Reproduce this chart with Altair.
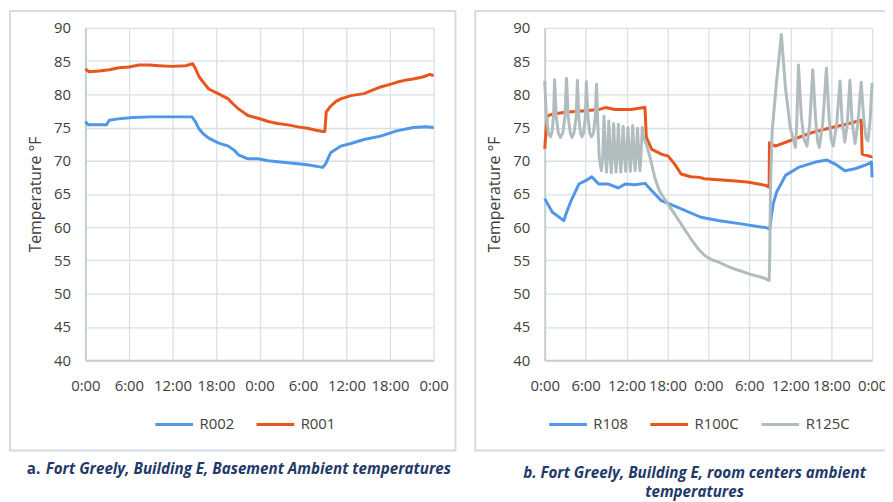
import altair as alt
import pandas as pd

# ---------------- Panel a: basement ambient temperatures ----------------
R002_H = [0, 0.4, 1.5, 2.9, 3.3, 4.5, 6.5, 8.8, 11.9, 14.7, 15.2, 15.6, 16.3, 17.0, 18.3, 19.7,
          20.5, 21.1, 22.4, 23.8, 25.2, 27.9, 30.6, 32.7, 33.1, 33.8, 35.2, 36.6, 38.4, 40.7,
          42.9, 45.2, 47.0, 48.0]
R002_T = [75.9, 75.4, 75.4, 75.4, 76.1, 76.3, 76.5, 76.6, 76.6, 76.6, 75.8, 74.9, 74.0, 73.4, 72.7, 72.2,
          71.6, 70.9, 70.3, 70.3, 70.0, 69.7, 69.4, 69.0, 69.5, 71.2, 72.2, 72.6, 73.2, 73.7,
          74.5, 75.0, 75.1, 75.0]

R001_H = [0, 0.5, 1.9, 3.3, 4.6, 6.0, 7.4, 8.8, 10.1, 11.9, 13.8, 14.8, 15.2, 15.7, 16.4, 17.0,
          18.3, 19.7, 20.4, 21.1, 22.4, 23.8, 25.2, 26.5, 27.9, 29.3, 30.6, 31.8, 32.7, 33.0,
          33.2, 33.8, 34.5, 35.2, 36.6, 38.4, 39.5, 40.7, 42.0, 42.9, 44.0, 45.2, 46.5, 47.5, 48.0]
R001_T = [83.8, 83.4, 83.5, 83.7, 84.0, 84.1, 84.4, 84.4, 84.3, 84.2, 84.3, 84.6, 83.8, 82.6, 81.6, 80.8,
          80.1, 79.3, 78.5, 77.8, 76.8, 76.4, 75.9, 75.6, 75.4, 75.1, 74.9, 74.6, 74.4, 74.4,
          77.3, 78.2, 78.9, 79.3, 79.8, 80.1, 80.6, 81.1, 81.5, 81.8, 82.1, 82.3, 82.6, 83.0, 82.8]

# ---------------- Panel b: room centre ambient temperatures ----------------
R108_H = [0, 1.1, 2.8, 3.3, 3.8, 5.0, 6.0, 6.9, 7.9, 9.35, 10.8, 11.8, 13.2, 14.7, 15.7, 17.1,
          19.5, 22.9, 25.4, 28.8, 32.6, 33.0, 33.2, 33.5, 34.0, 34.8, 35.3, 37.2, 39.7, 41.4,
          42.6, 44.0, 45.5, 47.4, 47.9, 48.0]
R108_T = [64.3, 62.3, 61.0, 62.5, 63.8, 66.5, 67.0, 67.6, 66.5, 66.5, 65.9, 66.5, 66.4, 66.6, 65.5, 64.0,
          63.0, 61.5, 61.0, 60.5, 59.9, 59.7, 61.5, 63.5, 65.3, 66.8, 67.8, 69.0, 69.8, 70.1,
          69.5, 68.5, 68.8, 69.5, 69.8, 67.5]

R100C_H = [0, 0.35, 1.1, 3.0, 5.5, 7.9, 8.9, 10.3, 12.7, 14.5, 14.7, 14.9, 15.7, 17.1, 18.1, 19.05,
           20.0, 21.4, 22.7, 23.4, 27.5, 29.7, 32.4, 32.9, 32.95, 33.8, 37.2, 39.4, 42.1, 44.2,
           46.4, 46.55, 47.9, 48.0]
R100C_T = [71.8, 76.7, 77.0, 77.3, 77.5, 77.7, 78.0, 77.7, 77.7, 78.0, 78.0, 73.5, 71.7, 71.0, 70.7, 69.5,
           68.0, 67.6, 67.5, 67.3, 67.0, 66.8, 66.3, 66.0, 72.7, 72.2, 73.5, 74.3, 75.0, 75.5,
           76.1, 71.0, 70.6, 70.7]

R125C_H = [0, 0.25, 0.55, 0.85, 1.1, 1.3, 1.45, 1.7, 2.0, 2.33, 2.65, 2.95, 3.2, 3.45, 3.75, 4.0,
           4.3, 4.6, 4.8, 5.0, 5.25, 5.45, 5.7, 5.95, 6.1, 6.35, 6.6, 6.85, 7.15, 7.4, 7.6,
           7.8, 8.0, 8.3, 8.5, 8.7, 8.9, 9.05, 9.2, 9.4, 9.6, 9.75, 9.9, 10.1, 10.3, 10.45,
           10.6, 10.8, 11.0, 11.15, 11.3, 11.5, 11.7, 11.85, 12.0, 12.2, 12.4, 12.55, 12.7, 12.9,
           13.1, 13.25, 13.4, 13.6, 13.8, 13.95, 14.1, 14.3, 14.5, 14.9, 15.5, 16.1, 16.8, 17.6,
           18.3, 19.3, 20.3, 21.4, 22.45, 23.5, 24.5, 25.4, 27.3, 30.2, 32.0, 32.9, 33.0, 33.1,
           33.35, 34.0, 34.7, 35.3, 36.0, 36.75, 36.95, 37.2, 37.6, 38.0, 38.45, 38.85, 39.3,
           39.7, 40.0, 40.25, 40.75, 41.3, 41.7, 42.0, 42.3, 42.8, 43.3, 43.6, 44.0, 44.35,
           44.75, 45.05, 45.5, 45.9, 46.4, 46.8, 47.1, 47.4, 47.7, 48.0]
R125C_T = [82.0, 76.5, 74.0, 73.6, 74.5, 77.0, 82.2, 76.5, 74.2, 73.5, 74.2, 76.5, 82.4, 76.5, 74.2, 73.5,
           74.2, 76.5, 82.1, 76.5, 74.2, 73.6, 74.2, 76.5, 81.9, 76.5, 74.2, 73.6, 74.2, 76.5, 81.5,
           75.0, 70.5, 68.5, 70.5, 76.7, 71.0, 68.3, 70.5, 76.0, 71.0, 68.2, 70.5, 75.6, 71.0, 68.3,
           70.5, 75.5, 71.0, 68.3, 70.5, 75.2, 71.0, 68.4, 70.5, 75.0, 71.0, 68.4, 70.5, 75.3,
           71.0, 68.5, 70.5, 74.9, 71.0, 68.5, 70.5, 75.0, 73.5, 72.5, 70.3, 67.6, 65.5, 64.2,
           63.1, 61.6, 60.0, 58.3, 56.8, 55.7, 55.1, 54.8, 53.9, 52.9, 52.4, 52.0, 56.0, 66.0,
           74.5, 82.0, 89.0, 80.9, 75.0, 72.0, 75.5, 84.4, 77.0, 73.3, 72.2, 75.5, 83.7,
           76.5, 73.0, 72.0, 75.5, 83.9, 76.5, 73.2, 72.2, 75.5, 82.0, 76.0, 72.8, 75.5,
           82.1, 76.0, 72.6, 75.5, 81.8, 76.0, 73.4, 73.0, 76.0, 81.7]

SERIES_A = ["R002", "R001"]
SERIES_B = ["R108", "R100C", "R125C"]
TIME_TICKS = [0, 6, 12, 18, 24, 30, 36, 42, 48]
TEMP_TICKS = [40, 45, 50, 55, 60, 65, 70, 75, 80, 85, 90]
Y_TITLE = "Temperature °F"
CAPTION_A_PREFIX = "a."
CAPTION_A = "Fort Greely, Building E, Basement Ambient temperatures"
CAPTION_B = ["b. Fort Greely, Building E, room centers ambient", "temperatures"]

BLUE = "#5097E8"
ORANGE = "#E8561E"
GREY = "#B1BCBE"
GRID = "#D7E0E3"
DOMAIN = "#C4CFD2"
TEXT = "#404040"
NAVY = "#22396A"
BOX = "#D3DCDF"


def frame(name, hours, temps):
    return pd.DataFrame({"hour": hours, "temp": temps, "series": name})


X_SCALE = alt.Scale(domain=[0, 48], nice=False, zero=False)
Y_SCALE = alt.Scale(domain=[40, 90], nice=False, zero=False)
X_AXIS = alt.Axis(values=TIME_TICKS, labelExpr="(datum.value % 24) + ':00'", title=None, grid=True,
                  labelOverlap=False, labelBound=False, labelFlush=False, labelPadding=19)
Y_AXIS = alt.Axis(values=TEMP_TICKS, title=Y_TITLE, labelPadding=15, titlePadding=10, grid=True,
                  labelOverlap=False)


def panel(series, domain, colors, width, legend_x, box, caption_layers):
    legend = alt.Legend(orient="none", legendX=legend_x, legendY=379, direction="horizontal",
                        title=None, symbolType="stroke", symbolSize=1444, symbolStrokeWidth=3,
                        labelFont="Open Sans", labelFontSize=15, labelColor=TEXT, labelOffset=5,
                        columnPadding=16, padding=0)
    color = alt.Color("series:N", scale=alt.Scale(domain=domain, range=colors), legend=legend)

    one = pd.DataFrame({"k": [0]})
    layers = [
        alt.Chart(one).mark_rect(fillOpacity=0, stroke=BOX, strokeWidth=2).encode(
            x=alt.value(box[0]), x2=alt.value(box[1]), y=alt.value(box[2]), y2=alt.value(box[3]))
    ]
    for name, df in series:
        layers.append(
            alt.Chart(df).mark_line(strokeWidth=3, strokeJoin="round").encode(
                x=alt.X("hour:Q", scale=X_SCALE, axis=X_AXIS),
                y=alt.Y("temp:Q", scale=Y_SCALE, axis=Y_AXIS),
                color=color))
    layers.extend(caption_layers)
    return alt.layer(*layers).properties(width=width, height=335)


one = pd.DataFrame({"k": [0]})
cap_style = dict(font="Open Sans", fontSize=15.3, fontWeight="bold", color=NAVY, baseline="alphabetic")

caps_a = [
    alt.Chart(one).mark_text(text=CAPTION_A_PREFIX, align="left", **cap_style).encode(
        x=alt.value(-59), y=alt.value(450)),
    alt.Chart(one).mark_text(text=CAPTION_A, align="left", fontStyle="italic", **cap_style).encode(
        x=alt.value(-40), y=alt.value(450)),
]
caps_b = [
    alt.Chart(one).mark_text(text=CAPTION_B, align="center", fontStyle="italic", lineHeight=18.5,
                             **cap_style).encode(x=alt.value(151), y=alt.value(454)),
]

left = panel(
    [("R002", frame("R002", R002_H, R002_T)), ("R001", frame("R001", R001_H, R001_T))],
    SERIES_A, [BLUE, ORANGE], 351, 69, (-76, 373, -17, 426), caps_a)

right = panel(
    [("R108", frame("R108", R108_H, R108_T)), ("R100C", frame("R100C", R100C_H, R100C_T)),
     ("R125C", frame("R125C", R125C_H, R125C_T))],
    SERIES_B, [BLUE, ORANGE, GREY], 330, 3, (-70, 350, -17, 426), caps_b)

chart = alt.hconcat(left, right, spacing=112, bounds="flush").resolve_scale(
    color="independent", x="independent", y="independent"
).resolve_legend(color="independent").properties(
    padding={"left": 1, "top": 0, "right": -8, "bottom": 0},
    background="white",
).configure_view(strokeOpacity=0).configure_axis(
    labelFont="Open Sans", labelFontSize=15, labelColor=TEXT,
    titleFont="Open Sans", titleFontSize=16, titleFontWeight="normal", titleColor=TEXT,
    gridColor=GRID, gridWidth=1.3, domainColor=DOMAIN, domainWidth=2, ticks=False,
)

chart.save("out.html", embed_options={"renderer": "svg", "actions": False})
